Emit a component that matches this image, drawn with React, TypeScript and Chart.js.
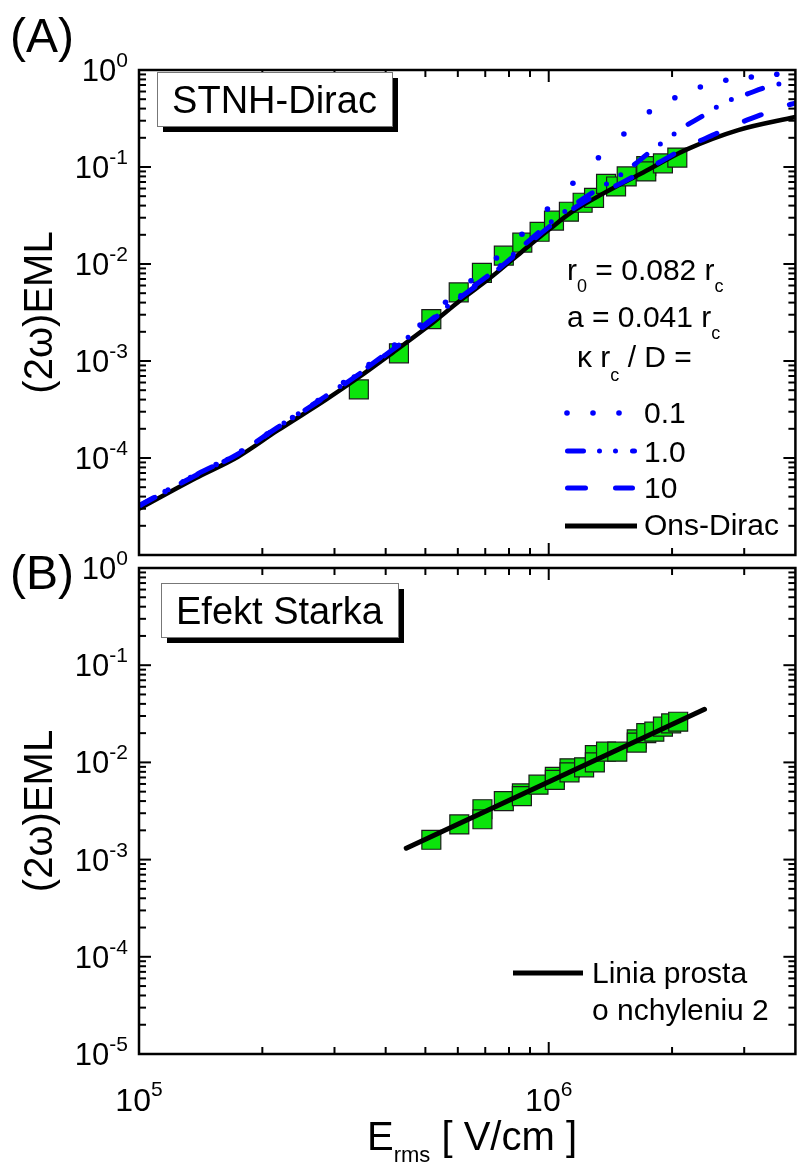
import React, { useEffect, useRef } from 'react';
import { Chart, registerables } from 'chart.js';

Chart.register(...registerables);

const FONT = '"Liberation Sans", Arial, Helvetica, sans-serif';
const BLUE = '#0000ff';
const GREEN = '#0be40b';

const X_MIN = 1e5;
const X_MAX = 4e6;
const Y_MIN = 1e-5;
const Y_MAX = 1;

// ---------- Panel A : measured points ----------
const expAX = [3.44e5, 4.31e5, 5.17e5, 6.03e5, 6.87e5, 7.77e5, 8.62e5, 9.5e5, 1.03e6, 1.12e6, 1.21e6, 1.29e6, 1.38e6, 1.46e6, 1.55e6, 1.73e6, 1.73e6, 1.9e6, 2.06e6];
const expAY = [5.1e-4, 1.2e-3, 2.7e-3, 5.1e-3, 8.1e-3, 1.22e-2, 1.66e-2, 2.15e-2, 2.8e-2, 3.46e-2, 4.28e-2, 4.8e-2, 6.7e-2, 6.3e-2, 8.0e-2, 0.102, 0.09, 0.109, 0.125];

// Ons-Dirac (black solid)
const onsX = [1e5, 1.374e5, 1.745e5, 2.17e5, 2.86e5, 3.44e5, 4.14e5, 5.06e5, 6.08e5, 7.2e5, 8.6e5, 1.0e6, 1.135e6, 1.36e6, 1.7e6, 2.16e6, 2.9e6, 4.0e6];
const onsY = [3.0e-5, 6.2e-5, 1.03e-4, 1.9e-4, 4.0e-4, 6.8e-4, 1.2e-3, 2.25e-3, 4.2e-3, 7.2e-3, 1.34e-2, 2.25e-2, 3.4e-2, 5.35e-2, 8.8e-2, 0.15, 0.24, 0.328];

// kappa rc / D = 0.1 (blue dots)
const k01X = [1.0039e5, 1.1584e5, 1.3367e5, 1.5425e5, 1.7802e5, 2.0542e5, 2.3709e5, 2.7357e5, 3.1571e5, 3.6434e5, 4.2043e5, 4.8518e5, 5.599e5, 6.4612e5, 7.456e5, 8.6041e5, 9.9284e5, 1.1457e6, 1.3222e6, 1.5258e6, 1.7607e6, 2.0318e6, 2.3446e6, 2.7056e6, 3.1221e6, 3.6028e6];
const k01Y = [3.2e-5, 4.51e-5, 6.3e-5, 8.57e-5, 1.181e-4, 1.768e-4, 2.616e-4, 3.915e-4, 6.0e-4, 9.2e-4, 1.462e-3, 2.35e-3, 4.03e-3, 6.73e-3, 1.153e-2, 2.024e-2, 3.69e-2, 6.79e-2, 0.1247, 0.2189, 0.3716, 0.518, 0.668, 0.783, 0.847, 0.903];

// kappa rc / D = 1.0 (blue dash-dot-dot)
const k1X = [1e5, 1.374e5, 1.745e5, 2.17e5, 2.86e5, 3.44e5, 4.14e5, 5.06e5, 6.08e5, 7.2e5, 8.6e5, 1.0e6, 1.2e6, 1.495e6, 1.65e6, 1.79e6, 1.96e6, 2.14e6, 2.36e6, 2.56e6, 2.8e6, 3.03e6, 3.38e6, 3.67e6, 4.0e6];
const k1Y = [3.24e-5, 6.68e-5, 1.11e-4, 2.06e-4, 4.36e-4, 7.43e-4, 1.32e-3, 2.49e-3, 4.68e-3, 7.9e-3, 1.5e-2, 2.6e-2, 4.57e-2, 8.27e-2, 0.113, 0.15, 0.198, 0.26, 0.33, 0.41, 0.5, 0.56, 0.66, 0.72, 0.77];

// kappa rc / D = 10 (blue dashed)
const k10X = [1e5, 1.374e5, 1.745e5, 2.17e5, 2.86e5, 3.44e5, 4.14e5, 5.06e5, 6.08e5, 7.2e5, 8.6e5, 1.0e6, 1.2e6, 1.51e6, 1.7e6, 1.97e6, 2.2e6, 2.55e6, 2.84e6, 3.29e6, 3.71e6, 4.0e6];
const k10Y = [3.2e-5, 6.6e-5, 1.1e-4, 2.04e-4, 4.3e-4, 7.3e-4, 1.29e-3, 2.42e-3, 4.5e-3, 7.6e-3, 1.42e-2, 2.4e-2, 4.2e-2, 6.9e-2, 9.0e-2, 0.128, 0.165, 0.219, 0.271, 0.344, 0.419, 0.455];

// ---------- Panel B ----------
const expBX = [5.17e5, 6.05e5, 6.89e5, 6.89e5, 7.77e5, 8.6e5, 8.6e5, 9.44e5, 1.035e6, 1.035e6, 1.124e6, 1.124e6, 1.22e6, 1.296e6, 1.296e6, 1.38e6, 1.47e6, 1.64e6, 1.64e6, 1.73e6, 1.81e6, 1.9e6, 1.99e6, 2.07e6];
const expBY = [1.6e-3, 2.3e-3, 3.3e-3, 2.6e-3, 4.0e-3, 4.8e-3, 4.5e-3, 5.9e-3, 7.1e-3, 6.6e-3, 8.7e-3, 7.9e-3, 8.9e-3, 1.19e-2, 1.0e-2, 1.29e-2, 1.29e-2, 1.73e-2, 1.6e-2, 2.0e-2, 2.07e-2, 2.33e-2, 2.52e-2, 2.62e-2];
const lineBX = [4.49e5, 2.4e6];
const lineBY = [1.31e-3, 3.52e-2];

// tick labels (exponents of 10)
const xLabelExps = [5, 6];
const yLabelExpsA = [0, -1, -2, -3, -4];
const yLabelExpsB = [0, -1, -2, -3, -4, -5];

const TOP_A = 0;
const TOP_B = 540;

type Part = { t: string; s: number; dy?: number };

const pts = (xs: number[], ys: number[]) => xs.map((x, i) => ({ x, y: ys[i] }));

function partsWidth(ctx: CanvasRenderingContext2D, parts: Part[]) {
  let w = 0;
  for (const p of parts) {
    ctx.font = `${p.s}px ${FONT}`;
    w += ctx.measureText(p.t).width;
  }
  return w;
}

function drawParts(ctx: CanvasRenderingContext2D, parts: Part[], x: number, y: number, align: 'left' | 'center' | 'right') {
  const w = partsWidth(ctx, parts);
  let cx = align === 'left' ? x : align === 'center' ? x - w / 2 : x - w;
  ctx.textAlign = 'left';
  ctx.textBaseline = 'alphabetic';
  for (const p of parts) {
    ctx.font = `${p.s}px ${FONT}`;
    ctx.fillText(p.t, cx, y + (p.dy || 0));
    cx += ctx.measureText(p.t).width;
  }
}

function seg(ctx: CanvasRenderingContext2D, x1: number, y1: number, x2: number, y2: number) {
  ctx.beginPath();
  ctx.moveTo(x1, y1);
  ctx.lineTo(x2, y2);
  ctx.stroke();
}

function drawAxes(chart: any, yExps: number[]) {
  const ctx: CanvasRenderingContext2D = chart.ctx;
  const a = chart.chartArea;
  const xs = chart.scales.x;
  const ys = chart.scales.y;
  ctx.save();
  ctx.strokeStyle = '#000';
  ctx.fillStyle = '#000';
  ctx.lineCap = 'butt';
  ctx.setLineDash([]);
  ctx.lineWidth = 2;
  for (let d = 5; d <= 6; d++) {
    for (let m = 1; m <= 9; m++) {
      const v = m * Math.pow(10, d);
      if (v <= X_MIN * 1.0001 || v >= X_MAX * 0.9999) continue;
      const px = xs.getPixelForValue(v);
      const len = m === 1 ? 12 : 7;
      seg(ctx, px, a.top, px, a.top + len);
      seg(ctx, px, a.bottom, px, a.bottom - len);
    }
  }
  for (let d = -5; d <= 0; d++) {
    for (let m = 1; m <= 9; m++) {
      const v = m * Math.pow(10, d);
      if (v <= Y_MIN * 1.0001 || v >= Y_MAX * 0.9999) continue;
      const py = ys.getPixelForValue(v);
      const len = m === 1 ? 12 : 7;
      seg(ctx, a.left, py, a.left + len, py);
      seg(ctx, a.right, py, a.right - len, py);
    }
  }
  ctx.lineWidth = 2.5;
  ctx.strokeRect(a.left, a.top, a.right - a.left, a.bottom - a.top);

  for (const e of yExps) {
    const py = ys.getPixelForValue(Math.pow(10, e));
    drawParts(ctx, [{ t: '10', s: 31 }, { t: String(e), s: 21, dy: -14 }], 128, py + 11, 'right');
  }
  // y title
  ctx.save();
  ctx.translate(52, (a.top + a.bottom) / 2);
  ctx.rotate(-Math.PI / 2);
  drawParts(ctx, [{ t: '(2\u03c9)EML', s: 40 }], 0, 0, 'center');
  ctx.restore();
  ctx.restore();
}

function box(ctx: CanvasRenderingContext2D, x: number, y: number, w: number, h: number, text: string) {
  ctx.save();
  ctx.fillStyle = '#000';
  ctx.fillRect(x + 6, y + 6, w, h);
  ctx.fillStyle = '#fff';
  ctx.fillRect(x, y, w, h);
  ctx.strokeStyle = '#777';
  ctx.lineWidth = 1;
  ctx.strokeRect(x + 0.5, y + 0.5, w, h);
  ctx.fillStyle = '#000';
  drawParts(ctx, [{ t: text, s: 38 }], x + w / 2, y + 41, 'center');
  ctx.restore();
}

function legendLine(ctx: CanvasRenderingContext2D, x1: number, x2: number, y: number, color: string, width: number, dash: number[], cap: CanvasLineCap) {
  ctx.save();
  ctx.strokeStyle = color;
  ctx.lineWidth = width;
  ctx.setLineDash(dash);
  ctx.lineCap = cap;
  seg(ctx, x1, y, x2, y);
  ctx.restore();
}

function annotateA(chart: any) {
  const ctx: CanvasRenderingContext2D = chart.ctx;
  ctx.save();
  ctx.translate(0, -TOP_A);
  ctx.fillStyle = '#000';
  drawParts(ctx, [{ t: '(A)', s: 48 }], 10, 52, 'left');
  box(ctx, 157, 72, 235, 54, 'STNH-Dirac');
  drawParts(ctx, [{ t: 'r', s: 30 }, { t: '0', s: 18, dy: 12 }, { t: ' = 0.082 r', s: 30 }, { t: 'c', s: 18, dy: 12 }], 567, 280, 'left');
  drawParts(ctx, [{ t: 'a = 0.041 r', s: 30 }, { t: 'c', s: 18, dy: 12 }], 567, 327, 'left');
  drawParts(ctx, [{ t: '\u03ba r', s: 30 }, { t: 'c', s: 18, dy: 14 }, { t: ' / D =', s: 30 }], 577, 367, 'left');
  // legend
  ctx.fillStyle = BLUE;
  for (const dx of [567, 593, 619]) {
    ctx.beginPath();
    ctx.arc(dx, 413, 2.8, 0, Math.PI * 2);
    ctx.fill();
  }
  legendLine(ctx, 567.5, 634.5, 451, BLUE, 5, [16, 16, 0, 16, 0, 17], 'round');
  legendLine(ctx, 567.5, 632.5, 488, BLUE, 5, [18, 30], 'round');
  legendLine(ctx, 565, 637, 526, '#000', 5, [], 'butt');
  ctx.fillStyle = '#000';
  drawParts(ctx, [{ t: '0.1', s: 30 }], 644, 423, 'left');
  drawParts(ctx, [{ t: '1.0', s: 30 }], 644, 462, 'left');
  drawParts(ctx, [{ t: '10', s: 30 }], 644, 498, 'left');
  drawParts(ctx, [{ t: 'Ons-Dirac', s: 30 }], 644, 535, 'left');
  ctx.restore();
}

function annotateB(chart: any) {
  const ctx: CanvasRenderingContext2D = chart.ctx;
  const xs = chart.scales.x;
  ctx.save();
  ctx.translate(0, -TOP_B);
  ctx.fillStyle = '#000';
  drawParts(ctx, [{ t: '(B)', s: 48 }], 10, 589, 'left');
  box(ctx, 161, 583, 237, 54, 'Efekt Starka');
  legendLine(ctx, 513, 583, 973, '#000', 5, [], 'butt');
  drawParts(ctx, [{ t: 'Linia prosta', s: 30 }], 592, 983, 'left');
  drawParts(ctx, [{ t: 'o nchyleniu 2', s: 30 }], 592, 1020, 'left');
  for (const e of xLabelExps) {
    const px = xs.getPixelForValue(Math.pow(10, e));
    drawParts(ctx, [{ t: '10', s: 32 }, { t: String(e), s: 21, dy: -15 }], px, 1111, 'center');
  }
  drawParts(ctx, [{ t: 'E', s: 40 }, { t: 'rms', s: 22, dy: 12 }, { t: ' [ V/cm ]', s: 40 }], 472, 1150, 'center');
  ctx.restore();
}

function squares(xs: number[], ys: number[]) {
  return {
    data: pts(xs, ys),
    showLine: false,
    pointStyle: 'rect',
    pointRadius: 13.4,
    pointHoverRadius: 13.4,
    pointBackgroundColor: GREEN,
    pointBorderColor: '#1a1a1a',
    pointBorderWidth: 1.2,
    order: 10,
  };
}

function curve(xs: number[], ys: number[], color: string, width: number, dash: number[], order: number) {
  return {
    data: pts(xs, ys),
    borderColor: color,
    borderWidth: width,
    borderDash: dash,
    borderCapStyle: dash.length ? 'round' : 'butt',
    pointRadius: 0,
    pointHoverRadius: 0,
    fill: false,
    cubicInterpolationMode: 'monotone',
    order,
  };
}

function makeChart(canvas: HTMLCanvasElement, datasets: any[], padding: any, after: (c: any) => void, yExps: number[]) {
  return new Chart(canvas, {
    type: 'line',
    data: { datasets },
    options: {
      animation: false,
      responsive: false,
      devicePixelRatio: 1,
      events: [],
      layout: { padding },
      plugins: { legend: { display: false }, tooltip: { enabled: false } },
      scales: {
        x: { type: 'logarithmic', min: X_MIN, max: X_MAX, display: false },
        y: { type: 'logarithmic', min: Y_MIN, max: Y_MAX, display: false },
      },
    },
    plugins: [
      {
        id: 'frameAndText',
        afterDraw: (c: any) => {
          drawAxes(c, yExps);
          after(c);
        },
      },
    ],
  } as any);
}

export default function App() {
  const refA = useRef<HTMLCanvasElement>(null);
  const refB = useRef<HTMLCanvasElement>(null);

  useEffect(() => {
    const dsA = [
      squares(expAX, expAY),
      curve(onsX, onsY, '#000', 4.5, [], 5),
      curve(k10X, k10Y, BLUE, 5, [18, 30], 3),
      curve(k1X, k1Y, BLUE, 5, [16, 17, 0, 17, 0, 17], 2),
      {
        data: pts(k01X, k01Y),
        showLine: false,
        pointStyle: 'circle',
        pointRadius: 2.8,
        pointHoverRadius: 2.8,
        pointBackgroundColor: BLUE,
        pointBorderWidth: 0,
        order: 1,
      },
    ];
    const dsB = [squares(expBX, expBY), { ...curve(lineBX, lineBY, '#000', 5, [], 1), borderCapStyle: 'round', cubicInterpolationMode: 'default' }];
    const cA = makeChart(refA.current!, dsA, { left: 139, right: 1, top: 70, bottom: 45 }, annotateA, yLabelExpsA);
    const cB = makeChart(refB.current!, dsB, { left: 139, right: 1, top: 28, bottom: 120 }, annotateB, yLabelExpsB);
    return () => {
      cA.destroy();
      cB.destroy();
    };
  }, []);

  return (
    <div style={{ position: 'absolute', left: 0, top: 0, width: 806, height: 1174, overflow: 'hidden', background: '#fff' }}>
      <canvas ref={refA} width={810} height={600} style={{ position: 'absolute', left: 0, top: TOP_A, width: 810, height: 600 }} />
      <canvas ref={refB} width={810} height={634} style={{ position: 'absolute', left: 0, top: TOP_B, width: 810, height: 634 }} />
    </div>
  );
}
